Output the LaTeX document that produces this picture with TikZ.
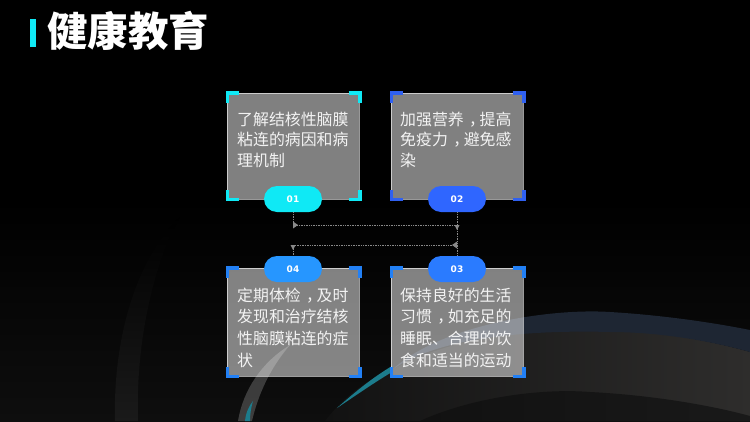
\documentclass[tikz,border=0pt]{standalone}
\usepackage{fontspec}
\setmainfont{Noto Sans CJK SC}
\newfontfamily\numfont{DejaVu Sans}
\usetikzlibrary{calc}
\newcommand{\zc}{\hbox to 1em{\hskip .34em ，\hss}}
\definecolor{cyanA}{HTML}{0FE9F5}
\definecolor{blueB}{HTML}{2F66FF}
\definecolor{blueC}{HTML}{2A7BFF}
\definecolor{blueD}{HTML}{2696FF}
\definecolor{cornerB}{HTML}{2F60F0}
\definecolor{cornerC}{HTML}{2280F5}
\definecolor{linkgray}{HTML}{8A8A8A}
\definecolor{bandblue}{HTML}{1E2633}
\definecolor{lensdark}{HTML}{191919}
\definecolor{lensleft}{HTML}{111111}
\definecolor{sheenA}{HTML}{121212}
\definecolor{sheenB}{HTML}{2E2D2C}
\definecolor{tealglow}{HTML}{1C7C8C}
\definecolor{ambient}{HTML}{0E0E0E}
\definecolor{streak}{HTML}{1A1A1A}
\tikzset{
  x=1pt,y=-1pt,
  card/.style={draw=white,draw opacity=.6,line width=.6pt,fill=white,fill opacity=.5,minimum width=132pt,inner sep=0pt,anchor=north west},
  cardtext/.style={text=white,text opacity=.9,font=\fontsize{15.9pt}{20.5pt}\selectfont,align=left,anchor=west,inner sep=0pt},
  pill/.style={rounded corners=13pt,minimum width=58pt,minimum height=26pt,inner sep=0pt,text=white,font=\numfont\bfseries\fontsize{9pt}{10pt}\selectfont},
  cornermark/.style={line width=3.5pt,line cap=butt,line join=miter},
  link/.style={draw=linkgray,line width=.7pt,densely dotted},
  tip/.style={fill=linkgray,draw=none},
}
\begin{document}
\begin{tikzpicture}
\useasboundingbox (0,0) rectangle (750,421);
\fill[black] (0,0) rectangle (750,421);
% background
\begin{scope}
\clip (0,0) rectangle (750,421);
\shade[top color=black,bottom color=ambient] (0,200) rectangle (750,421);
\shade[top color=black,bottom color=streak] (115,421) .. controls (113,340) and (135,260) .. (180,217) .. controls (160,250) and (135,330) .. (138,421) -- cycle;
% sheen
\shade[left color=sheenA,right color=sheenB] (325,421) .. controls (345,395) and (370,378) .. (392,370) .. controls (470,325) and (620,315) .. (750,352) -- (750,421) -- cycle;
\shade[left color=lensleft,right color=lensdark] (420,421) .. controls (470,398) and (540,388) .. (590,392) .. controls (650,395) and (710,405) .. (750,416) -- (750,421) -- cycle;
\fill[bandblue] (392,370) .. controls (440,325) and (550,308) .. (610,312) .. controls (660,315) and (710,322) .. (750,330) -- (750,352) .. controls (700,338) and (650,332) .. (610,332) .. controls (540,330) and (440,335) .. (392,370) -- cycle;
% left bright arc
\fill[white,opacity=.2] (238,421) .. controls (243,390) and (262,362) .. (290,345) .. controls (270,368) and (258,395) .. (252,421) -- cycle;
\fill[tealglow] (245,421) .. controls (246,412) and (249,406) .. (253,401) .. controls (251,408) and (250,414) .. (250,421) -- cycle;
% teal streak
\fill[tealglow] (337,408) .. controls (355,392) and (372,378) .. (392,366) -- (392,372) .. controls (372,384) and (355,396) .. (337,408) -- cycle;
\end{scope}
% title
\fill[cyanA] (30,18.5) rectangle (36,47);
\node[anchor=west,inner sep=0pt,text=white,font=\bfseries\fontsize{40.5pt}{41pt}\selectfont] (title) at (47,31) {健康教育};
% cards
\node[card,minimum height=106pt] (b1) at (227,93) {};
\node[card,minimum height=106pt] (b2) at (391,93) {};
\node[card,minimum height=108pt] (b3) at (391,268) {};
\node[card,minimum height=108pt] (b4) at (227,268) {};
% corner marks
\foreach \b/\c in {b1/cyanA,b2/cornerB,b3/cornerC,b4/cornerC}{
  \draw[cornermark,\c] ($(\b.north west)+(12,0)$) -- ($(\b.north west)+(.5,0)$) -- ($(\b.north west)+(.5,10)$);
  \draw[cornermark,\c] ($(\b.north east)+(-11,0)$) -- ($(\b.north east)+(.3,0)$) -- ($(\b.north east)+(.3,10)$);
  \draw[cornermark,\c] ($(\b.south west)+(12,0)$) -- ($(\b.south west)+(.5,0)$) -- ($(\b.south west)+(.5,-10)$);
  \draw[cornermark,\c] ($(\b.south east)+(-11,0)$) -- ($(\b.south east)+(.3,0)$) -- ($(\b.south east)+(.3,-10)$);
}
% text
\node[cardtext] (t1) at (237,139.5) {了解结核性脑膜\\粘连的病因和病\\理机制};
\node[cardtext] (t2) at (400,139.5) {加强营养\zc 提高\\免疫力\zc 避免感\\染};
\node[cardtext,font=\fontsize{15.9pt}{21.7pt}\selectfont] (t3) at (400,327.5) {保持良好的生活\\习惯\zc 如充足的\\睡眠、合理的饮\\食和适当的运动};
\node[cardtext,font=\fontsize{15.9pt}{21.7pt}\selectfont] (t4) at (237,327.5) {定期体检\zc 及时\\发现和治疗结核\\性脑膜粘连的症\\状};
% pills
\node[pill,fill=cyanA] (p1) at (293,199) {01};
\node[pill,fill=blueB] (p2) at (457,199) {02};
\node[pill,fill=blueC] (p3) at (457,269) {03};
\node[pill,fill=blueD] (p4) at (293,269) {04};
% connectors
\coordinate (c1) at (293,225);
\coordinate (c2) at (457,225);
\coordinate (c3) at (457,245);
\coordinate (c4) at (293,245);
\draw[link] (p1.south) -- (c1) -- (c2);
\draw[link] (p2.south) -- (p3.north);
\draw[link] (c3) -- (c4) -- (p4.north);
\fill[tip] (c1)++(0,-3.5) -- ++(5,3.5) -- ++(-5,3.5) -- cycle;
\fill[tip] (c2)++(-2.5,0) -- ++(5,0) -- ++(-2.5,5) -- cycle;
\fill[tip] (c3)++(0,-3.5) -- ++(-5,3.5) -- ++(5,3.5) -- cycle;
\fill[tip] (c4)++(-2.5,0) -- ++(5,0) -- ++(-2.5,5) -- cycle;
\end{tikzpicture}
\end{document}
